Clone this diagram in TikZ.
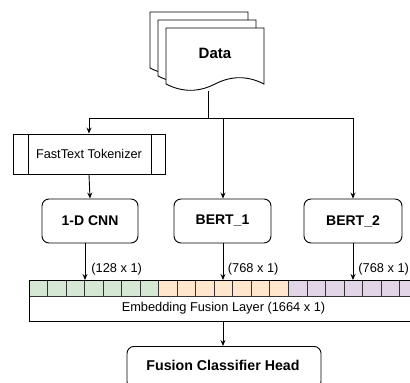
\documentclass[tikz,border=0pt]{standalone}
\usepackage{fontspec}
\setmainfont{Liberation Sans}
\usetikzlibrary{arrows.meta}
\definecolor{cgreen}{HTML}{D5E8D4}
\definecolor{corange}{HTML}{FFE6CC}
\definecolor{cpurple}{HTML}{E1D5E7}
\tikzset{
  arr/.style={-{Stealth[length=6pt,width=5pt]}},
  doc/.style={draw=black,fill=white},
  rbox/.style={draw=black,fill=white,rounded corners=7pt,font=\fontsize{14}{16}\bfseries\selectfont},
  lbl/.style={font=\fontsize{12.8}{15}\selectfont,anchor=west,inner sep=0pt},
  cell/.style={draw=black!80,line width=0.7pt},
}
\begin{document}
\begin{tikzpicture}[x=1pt,y=-1pt,line width=0.9pt]
\useasboundingbox (0,0) rectangle (410,383);
\clip (0,0) rectangle (410,383);
% Data document stack
\foreach \o in {16,8,0}{
  \begin{scope}[shift={(-\o,-\o)}]
  \draw[doc] (166,28) -- (264,28) -- (264,84)
    .. controls (247.67,75.6) and (231.33,75.6) .. (215,84)
    .. controls (198.67,92.4) and (182.33,92.4) .. (166,84) -- cycle;
  \end{scope}
}
\node[font=\fontsize{15}{17}\bfseries\selectfont] (data) at (215,53) {Data};
\coordinate (dbot) at (208,91);
\coordinate (j) at (208,118);
\coordinate (jl) at (89,118);
\coordinate (jm) at (223,118);
\coordinate (jr) at (353,118);
% FastText
\node[draw=black,fill=white,minimum width=152pt,minimum height=40pt,inner sep=0pt,
      font=\fontsize{12.7}{15}\selectfont] (ft) at (89,154) {FastText Tokenizer};
\draw ([xshift=16pt]ft.north west) -- ([xshift=16pt]ft.south west);
\draw ([xshift=-14pt]ft.north east) -- ([xshift=-14pt]ft.south east);
% models
\node[rbox,minimum width=96pt,minimum height=44pt] (cnn) at (90,221) {1-D CNN};
\node[rbox,minimum width=97pt,minimum height=44pt] (b1) at (222.5,221) {BERT\_1};
\node[rbox,minimum width=98pt,minimum height=44pt] (b2) at (353,221) {BERT\_2};
% connectors top
\draw (dbot) -- (j);
\draw (jl) -- (jr);
\draw[arr] (jl) -- (ft.north);
\draw[arr] (jm) -- (jm |- b1.north);
\draw[arr] (jr) -- (b2.north);
\draw[arr] (ft.south) -- (cnn.north);
% embedding layer
\foreach \i in {0,...,6}{
  \fill[cgreen] (29+\i*18.524,280) rectangle ++(18.524,16);
  \fill[corange] (29+\i*18.524+129.667,280) rectangle ++(18.524,16);
  \fill[cpurple] (29+\i*18.524+259.333,280) rectangle ++(18.524,16);
}
\foreach \i in {0,...,20}{
  \draw[cell] (29+\i*18.524,280) rectangle ++(18.524,16);
}
\node[draw=black,minimum width=389pt,minimum height=41pt,inner sep=0pt,anchor=north west] (emb) at (29,280) {};
\node[font=\fontsize{12.8}{15}\selectfont] (embt) at (223.5,308.5) {Embedding Fusion Layer (1664 x 1)};
\coordinate (e1) at (85,280);
\coordinate (e2) at (223,280);
\coordinate (e3) at (353,280);
\draw[arr] (cnn.south -| e1) -- (e1);
\draw[arr] (b1.south -| e2) -- (e2);
\draw[arr] (b2.south) -- (e3);
\node[lbl] (l1) at (91,269) {(128 x 1)};
\node[lbl] (l2) at (227.5,269) {(768 x 1)};
\node[lbl] (l3) at (358,269) {(768 x 1)};
% head
\node[rbox,minimum width=194pt,minimum height=42pt,anchor=north] (head) at (224,346) {};
\node[font=\fontsize{14.2}{16}\bfseries\selectfont] (headt) at (223,365) {Fusion Classifier Head};
\coordinate (e4) at (223,321);
\draw[arr] (e4) -- (e4 |- head.north);
\end{tikzpicture}
\end{document}
